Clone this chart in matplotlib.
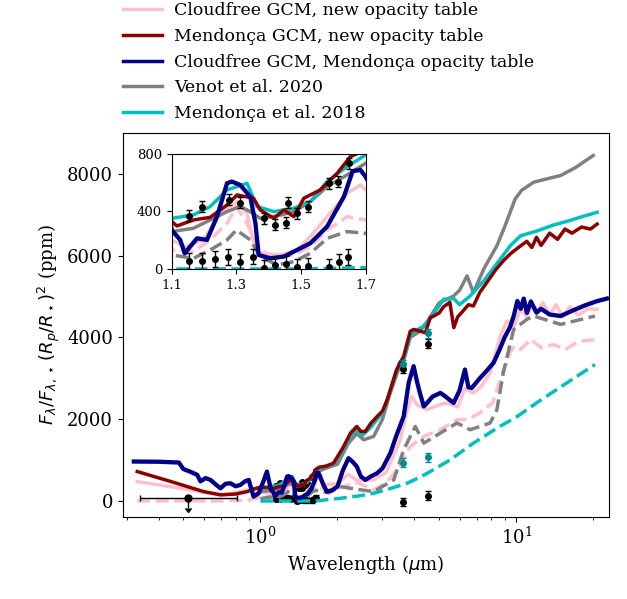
import numpy as np
import matplotlib
matplotlib.use("Agg")
import matplotlib.pyplot as plt
from matplotlib.lines import Line2D

plt.rcParams['font.family'] = 'DejaVu Serif'

# Cloudfree GCM, new opacity table (dayside solid, nightside dashed)
wl_cf_day = [0.33, 0.5, 0.698, 0.8, 0.887, 0.95, 1.0, 1.05, 1.1, 1.14, 1.198, 1.25, 1.302, 1.333, 1.359, 1.374,
             1.436, 1.488, 1.529, 1.581, 1.643, 1.684, 1.7, 1.8, 2.0, 2.2, 2.4, 2.77, 3.1, 3.52, 3.7, 3.9, 4.1,
             4.48, 5.0, 5.36, 5.9, 6.3, 6.8, 7.3, 7.9, 8.66, 9.2, 9.8, 10.4, 11.0, 11.4, 12.0, 12.7, 13.5, 14.3,
             15.2, 16.2, 17.5, 19.0, 20.7]
fp_cf_day = [474, 300, 147, 200, 270, 250, 230, 200, 202, 155, 202, 387, 468, 387, 132, 109,
             97, 132, 225, 364, 526, 584, 550, 400, 420, 650, 500, 515, 700, 1497, 2100, 2560, 2350,
             2233, 2350, 2397, 2300, 2750, 2643, 2800, 3133, 4032, 4400, 4277, 4700, 4500, 4770, 4600, 4850, 4550, 4800,
             4500, 4750, 4550, 4700, 4687]
wl_cf_night = [0.33, 0.5, 0.7, 0.9, 1.0, 1.1, 1.167, 1.219, 1.271, 1.3, 1.333, 1.364, 1.405, 1.478, 1.529, 1.581,
               1.643, 1.7, 1.85, 2.1, 2.4, 2.77, 3.1, 3.42, 3.85, 4.35, 5.05, 5.86, 6.5, 7.2, 8.1, 8.66, 9.45,
               9.8, 10.4, 11.4, 12.5, 14.0, 15.5, 17.5, 20.7]
fp_cf_night = [0, 0, 0, 20, 90, 132, 121, 202, 318, 434, 318, 155, 86, 97, 155, 271,
               364, 341, 250, 350, 450, 270, 450, 760, 1333, 1579, 1742, 1988, 2000, 2152, 2405, 2969, 3624,
               3787, 3706, 3951, 3750, 3828, 3700, 3900, 3951]

# Mendonca GCM, new opacity table
wl_men_new = [0.33, 0.45, 0.6, 0.7, 0.8, 0.887, 0.95, 1.0, 1.1, 1.116, 1.167, 1.219, 1.271, 1.302, 1.353, 1.374,
              1.416, 1.447, 1.478, 1.509, 1.56, 1.612, 1.653, 1.7, 1.8, 1.93, 2.1, 2.25, 2.38, 2.47, 2.57, 2.7,
              2.86, 3.0, 3.13, 3.22, 3.4, 3.63, 3.85, 3.97, 4.2, 4.41, 4.61, 4.76, 5.0, 5.2, 5.5, 5.7, 5.9, 6.2,
              6.5, 6.8, 7.2, 7.67, 8.3, 8.9, 9.5, 10.4, 11.0, 11.5, 12.0, 12.5, 13.5, 14.5, 15.5, 16.5, 18.0,
              19.5, 20.7]
fp_men_new = [720, 470, 229, 150, 170, 229, 300, 340, 329, 299, 341, 359, 445, 515, 492, 410,
              352, 410, 364, 492, 550, 665, 781, 828, 850, 925, 1300, 1661, 1824, 1700, 1701, 1900,
              2069, 2200, 2478, 2724, 3200, 3541, 4150, 4196, 4155, 4115, 4483, 4523, 4600, 4750, 4860, 4238, 4500, 4650,
              4800, 4769, 5100, 5342, 5650, 5873, 6050, 6241, 6350, 6200, 6450, 6250, 6550, 6400, 6650, 6550, 6700,
              6650, 6773]

# Cloudfree GCM, Mendonca opacity table
wl_cf_men = [0.32, 0.4, 0.48, 0.5, 0.53, 0.566, 0.583, 0.61, 0.638, 0.67, 0.698, 0.73, 0.763, 0.8, 0.835, 0.87,
             0.9, 0.94, 0.985, 1.03, 1.06, 1.1, 1.126, 1.14, 1.178, 1.209, 1.24, 1.271, 1.286, 1.312, 1.343,
             1.359, 1.369, 1.405, 1.447, 1.488, 1.529, 1.581, 1.633, 1.66, 1.684, 1.7, 1.76, 1.82, 1.9, 2.0, 2.1,
             2.21, 2.3, 2.38, 2.47, 2.57, 2.7, 2.86, 3.0, 3.22, 3.4, 3.63, 3.8, 3.97, 4.1, 4.2, 4.35, 4.48, 4.7,
             5.05, 5.3, 5.69, 6.0, 6.3, 6.5, 6.7, 7.2, 7.7, 8.15, 8.6, 9.0, 9.45, 9.77, 10.1, 10.4, 10.7, 11.0,
             11.4, 12.0, 12.5, 13.5, 14.9, 16.5, 18.5, 20.5, 22.6]
fp_cf_men = [965, 960, 940, 780, 720, 640, 480, 560, 515, 400, 311, 420, 434, 360, 393, 480,
             515, 106, 190, 500, 720, 270, 202, 109, 213, 202, 364, 596, 608, 584, 503,
             318, 97, 74, 86, 132, 179, 295, 503, 680, 689, 642, 400, 229, 260, 352, 750,
             1047, 950, 842, 600, 515, 600, 680, 800, 1170, 1600, 2069, 2900, 3296, 2900, 2643, 2314, 2397, 2550,
             2643, 2550, 2397, 2700, 3215, 2780, 2765, 3000, 3200, 3379, 3700, 4000, 4250, 4523, 4890, 4700, 4950, 4600,
             4880, 4606, 4700, 4560, 4523, 4650, 4780, 4880, 4950]

# Venot et al. 2020 (dayside solid, nightside dashed)
wl_venot_day = [1.0, 1.1, 1.167, 1.219, 1.271, 1.312, 1.343, 1.374, 1.426, 1.478, 1.529, 1.581, 1.643, 1.7, 1.8,
                2.0, 2.2, 2.38, 2.53, 2.77, 3.0, 3.2, 3.5, 3.63, 3.85, 4.2, 4.5, 5.0, 5.67, 6.0, 6.42, 6.8, 7.5,
                8.4, 9.0, 9.9, 10.5, 11.7, 13.0, 14.9, 17.0, 20.0]
fp_venot_day = [230, 260, 283, 341, 399, 434, 399, 352, 369, 399, 468, 573, 654, 735, 800,
                900, 1400, 1650, 1497, 1579, 2000, 2600, 3300, 3450, 4000, 4150, 4400, 4850, 5006, 5150, 5504, 5097, 5700,
                6241, 6700, 7387, 7600, 7796, 7870, 7959, 8150, 8450]
wl_venot_night = [1.0, 1.1, 1.167, 1.219, 1.271, 1.3, 1.343, 1.374, 1.426, 1.478, 1.529, 1.581, 1.643, 1.7, 1.85,
                  2.05, 2.3, 2.77, 3.32, 3.63, 4.03, 4.35, 5.05, 5.86, 6.6, 7.9, 8.4, 8.9, 9.77, 11.0, 11.7, 14.9, 20.3]
fp_venot_night = [60, 97, 74, 132, 202, 271, 202, 86, 28, 51, 109, 213, 260, 248, 200,
                  352, 300, 229, 515, 1252, 1824, 1415, 1661, 1907, 1742, 1907, 2233, 3141, 4196, 4442, 4523, 4319, 4523]

# Mendonca et al. 2018 (dayside solid, nightside dashed)
wl_m18_day = [1.0, 1.1, 1.167, 1.219, 1.271, 1.333, 1.364, 1.416, 1.478, 1.529, 1.581, 1.643, 1.7, 1.8, 1.93, 2.1,
              2.25, 2.38, 2.5, 2.7, 2.86, 3.0, 3.2, 3.5, 3.63, 3.85, 4.0, 4.35, 4.6, 5.2, 5.7, 6.0, 6.6, 7.5, 8.66,
              9.5, 10.4, 12.0, 14.0, 16.0, 18.0, 20.7]
fp_m18_day = [280, 352, 376, 434, 550, 596, 434, 399, 422, 468, 608, 712, 793, 850, 900, 1250,
              1600, 1750, 1600, 1800, 2000, 2150, 2650, 3400, 3450, 4050, 4150, 4277, 4450, 4933, 4950, 4800, 5014, 5400, 5914,
              6250, 6487, 6600, 6750, 6850, 6950, 7060]
wl_m18_night = [1.0, 1.5, 1.7, 2.05, 2.4, 2.77, 3.2, 3.74, 4.2, 4.61, 5.5, 6.8, 8.5, 10.1, 12.0, 15.0, 20.3]
fp_m18_night = [0, 0, 10, 66, 120, 188, 300, 434, 580, 720, 1000, 1415, 1800, 2069, 2400, 2800, 3337]

# observations
wl_wfc3_day = [1.152, 1.193, 1.276, 1.312, 1.386, 1.421, 1.454, 1.46, 1.488, 1.522, 1.586, 1.615, 1.648]
fp_wfc3_day = [371, 433, 480, 461, 353, 306, 322, 461, 387, 433, 596, 607, 735]
wl_wfc3_night = [1.154, 1.193, 1.234, 1.274, 1.312, 1.35, 1.387, 1.421, 1.455, 1.488, 1.521, 1.586, 1.617, 1.646]
fp_wfc3_night = [58, 56, 67, 81, 51, 86, 5, 28, 35, 12, 21, 16, 46, 81]
wl_spitzer = [3.6, 4.5]
fp_spitzer_day = [3230, 3850]
fp_spitzer_night = [-17, 130]
fp_spitzer_day2 = [3340, 4100]
fp_spitzer_night2 = [940, 1072]
err_spitzer = [100, 110]

fig = plt.figure(figsize=(6.27, 5.99), dpi=100)
ax = fig.add_axes([0.196, 0.137, 0.775, 0.641])
ins = fig.add_axes([0.274, 0.551, 0.309, 0.192])


def draw(a, lw, pz):
    a.plot(wl_cf_night, fp_cf_night, color='pink', ls='--', lw=lw)
    a.plot(wl_cf_day, fp_cf_day, color='pink', lw=lw)
    a.plot(wl_venot_night, fp_venot_night, color='gray', ls='--', lw=lw)
    a.plot(wl_venot_day, fp_venot_day, color='gray', lw=lw)
    a.plot(wl_m18_night, fp_m18_night, color='c', ls='--', lw=lw)
    a.plot(wl_m18_day, fp_m18_day, color='c', lw=lw)
    a.plot(wl_men_new, fp_men_new, color='darkred', lw=lw)
    a.plot(wl_cf_men, fp_cf_men, color='darkblue', lw=lw + 0.6)
    a.errorbar(wl_wfc3_day, fp_wfc3_day, yerr=38, fmt='o', color='k', ms=4, capsize=2, lw=1, zorder=pz)
    a.errorbar(wl_wfc3_night, fp_wfc3_night, yerr=55, fmt='o', color='k', ms=4, capsize=2, lw=1, zorder=pz)


draw(ax, 2.5, 1.5)
draw(ins, 2.5, 5)

ax.errorbar(wl_spitzer, fp_spitzer_day, yerr=err_spitzer, fmt='o', color='k', ms=4, capsize=2, lw=1, zorder=5)
ax.errorbar(wl_spitzer, fp_spitzer_night, yerr=err_spitzer, fmt='o', color='k', ms=4, capsize=2, lw=1, zorder=5)
ax.errorbar(wl_spitzer, fp_spitzer_day2, yerr=err_spitzer, fmt='o', color='darkcyan', ms=4, capsize=2, lw=1, zorder=5)
ax.errorbar(wl_spitzer, fp_spitzer_night2, yerr=err_spitzer, fmt='o', color='darkcyan', ms=4, capsize=2, lw=1, zorder=5)
ax.errorbar([0.523], [66], xerr=[[0.185], [0.287]], yerr=[[240], [0]], uplims=True, fmt='o', color='k',
            ms=5, capsize=2, lw=1, zorder=5)

ax.set_xscale('log')
ax.set_xlim(0.29, 23)
ax.set_ylim(-390, 9000)
ax.set_yticks([0, 2000, 4000, 6000, 8000])
ax.tick_params(labelsize=13)
ax.set_xlabel(r'Wavelength ($\mu$m)', fontsize=13)
ax.set_ylabel(r'$F_\lambda/F_{\lambda,\star}\,(R_p/R_\star)^2$ (ppm)', fontsize=13)

ins.set_xlim(1.1, 1.7)
ins.set_ylim(0, 800)
ins.set_xticks([1.1, 1.3, 1.5, 1.7])
ins.set_yticks([0, 400, 800])
ins.tick_params(labelsize=9.5)

handles = [Line2D([], [], color='pink', lw=2.5), Line2D([], [], color='darkred', lw=2.5),
           Line2D([], [], color='darkblue', lw=2.5), Line2D([], [], color='gray', lw=2.5),
           Line2D([], [], color='c', lw=2.5)]
labels = ['Cloudfree GCM, new opacity table', 'Mendonça GCM, new opacity table',
          'Cloudfree GCM, Mendonça opacity table', 'Venot et al. 2020', 'Mendonça et al. 2018']
fig.legend(handles, labels, loc='upper left', bbox_to_anchor=(0.172, 1.022), frameon=False, fontsize=12.5,
           handlelength=2.2, handletextpad=0.7, labelspacing=0.5)

fig.savefig('out.png', dpi=100)
